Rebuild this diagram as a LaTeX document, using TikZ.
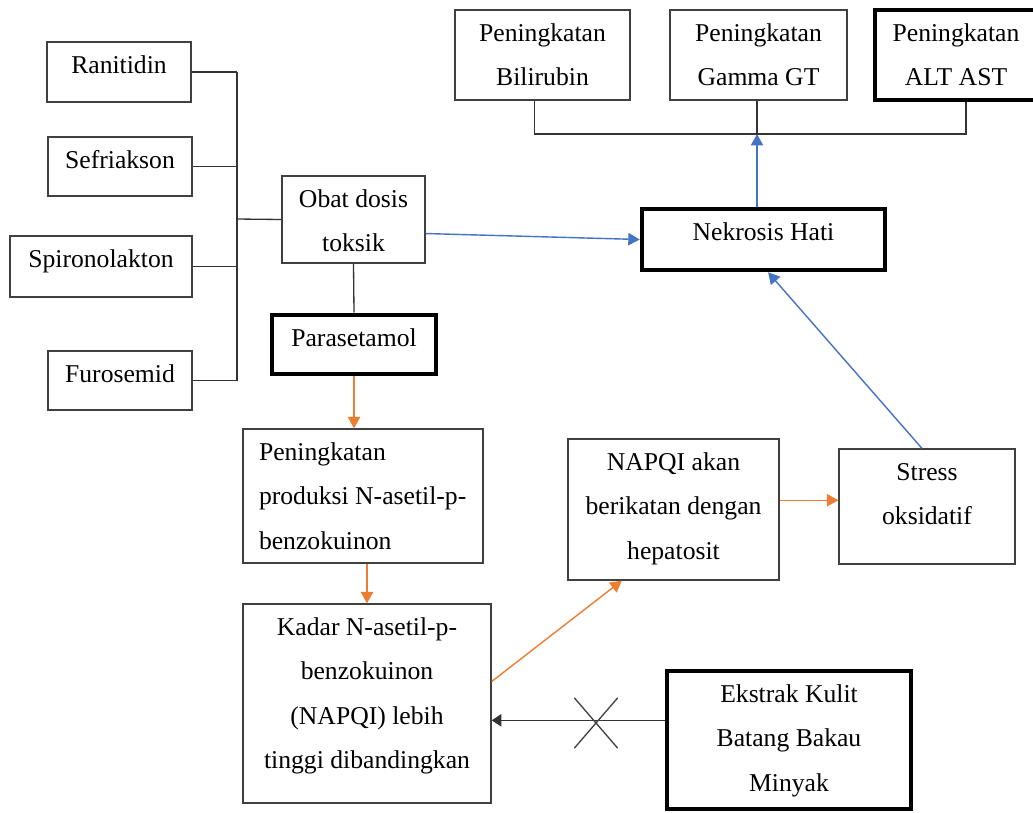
\documentclass[tikz,border=0pt]{standalone}
\usepackage{fontspec}
\setmainfont{Liberation Serif}
\usetikzlibrary{arrows.meta,shapes.misc}
\definecolor{wordorange}{HTML}{ED7D31}
\definecolor{wordblue}{HTML}{4472C4}
\newcommand{\boxtxt}[3]{\begin{minipage}[c][#2][t]{#1}\centering\strut #3\end{minipage}}

\begin{document}
\begin{tikzpicture}[x=0.02cm, y=-0.02cm,
    box/.style={draw=black!75, line width=0.75pt, inner sep=0pt,
      font=\fontsize{14.6pt}{25.3pt}\selectfont},
    thickbox/.style={draw=black, line width=2.6pt},
    conn/.style={draw=black!80, line width=0.75pt},
    orangearr/.style={draw=wordorange, line width=0.8pt, -{Triangle[length=6.5pt,width=7pt]}},
    bluearr/.style={draw=wordblue, line width=0.8pt, -{Triangle[length=6.5pt,width=7pt]}}]
    \useasboundingbox (0,0) rectangle (1033,812);

    % obat
    \node[box] (ran) at (119,72) {\boxtxt{2.88cm}{1.2cm}{Ranitidin}};
    \node[box] (sef) at (120,166.5) {\boxtxt{2.88cm}{1.18cm}{Sefriakson}};
    \node[box] (spi) at (101,266.5) {\boxtxt{3.64cm}{1.22cm}{Spironolakton}};
    \node[box] (fur) at (120,380.5) {\boxtxt{2.88cm}{1.18cm}{Furosemid}};
    \node[box] (obat) at (353.5,219.5) {\boxtxt{2.86cm}{1.74cm}{Obat dosis\\toksik}};
    \node[box, thickbox] (para) at (354,344.5) {\boxtxt{3.28cm}{1.18cm}{Parasetamol}};

    % jalur NAPQI
    \node[box] (pen) at (363,496) {\boxtxt{4.8cm}{2.68cm}{\raggedright\leftskip=9.1pt Peningkatan\\produksi N-asetil-p-\\benzokuinon}};
    \node[box] (kadar) at (367,703.5) {\boxtxt{4.96cm}{3.98cm}{Kadar N-asetil-p-\\benzokuinon\\(NAPQI) lebih\\tinggi dibandingkan}};
    \node[box] (napqi) at (673.5,509.5) {\boxtxt{4.22cm}{2.82cm}{NAPQI akan\\berikatan dengan\\hepatosit}};
    \node[box] (stress) at (927,506.5) {\boxtxt{3.52cm}{2.3cm}{Stress\\oksidatif}};
    \node[box, thickbox] (ekstrak) at (789,740) {\boxtxt{4.88cm}{2.76cm}{Ekstrak Kulit\\Batang Bakau\\Minyak}};

    % hati
    \node[box, thickbox] (nekrosis) at (763.5,239.5) {\boxtxt{4.86cm}{1.22cm}{Nekrosis Hati}};
    \node[box] (bil) at (542.5,55) {\boxtxt{3.5cm}{1.8cm}{Peningkatan\\Bilirubin}};
    \node[box] (gam) at (758.5,55) {\boxtxt{3.54cm}{1.8cm}{Peningkatan\\Gamma GT}};
    \node[box, thickbox] (alt) at (956,55) {\boxtxt{3.24cm}{1.8cm}{Peningkatan\\ALT AST}};

    \coordinate (bus) at (237,219);
    \coordinate (hub) at (757,134);

    \draw[conn] (ran.east) -- (ran.east -| bus);
    \draw[conn] (sef.east) -- (sef.east -| bus);
    \draw[conn] (spi.east) -- (spi.east -| bus);
    \draw[conn] (fur.east) -- (fur.east -| bus);
    \draw[conn] (ran.east -| bus) -- (fur.east -| bus);
    \draw[conn] (bus) -- (obat.west);
    \draw[conn] (obat.south) -- (para.north);

    \draw[orangearr] (para.south) -- (para.south |- pen.north);
    \draw[orangearr] (kadar.north |- pen.south) -- (kadar.north);
    \draw[orangearr] (kadar.10) -- (napqi.234);
    \draw[orangearr] (napqi.5) -- (napqi.5 -| stress.west);

    \draw[bluearr] (stress.95) -- (nekrosis.278);
    \draw[bluearr] (obat.-11) -- (nekrosis.west);
    \draw[bluearr] (hub |- nekrosis.north) -- (hub);
    \draw[conn] (bil.-100) |- (hub) -| (alt.-78);
    \draw[conn] (gam.south -| hub) -- (hub);

    \draw[conn, -{Triangle[length=5.5pt,width=7pt]}] (ekstrak.171) -- (ekstrak.171 -| kadar.east);
    \node[cross out, draw=black!75, line width=0.75pt, minimum width=0.84cm, minimum height=0.98cm, inner sep=0pt] (stop) at (596,723) {};
\end{tikzpicture}
\end{document}
